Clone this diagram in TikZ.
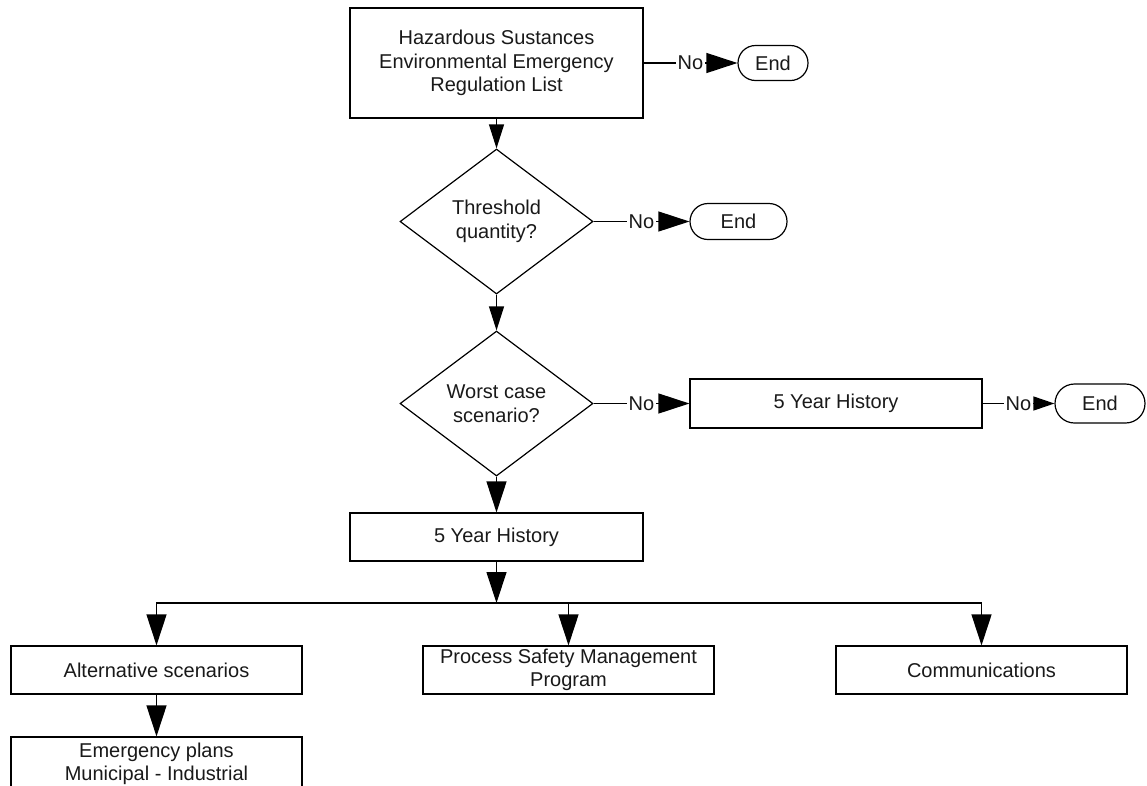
\documentclass[tikz,border=0pt]{standalone}
\usepackage{fontspec}
\setmainfont{Liberation Sans}
\usetikzlibrary{shapes.geometric,shapes.misc,arrows.meta}
\begin{document}
\begin{tikzpicture}[x=1pt,y=-1pt,
  every node/.style={font=\fontsize{20}{23.5}\selectfont, text=black!90},
  box/.style={draw, line width=1.2pt, rectangle, inner sep=0pt, align=center},
  dia/.style={draw, line width=1.2pt, diamond, aspect=1.33, inner sep=0pt,
    minimum width=193pt, minimum height=145pt, align=center},
  term/.style={draw, line width=1.2pt, rounded rectangle, inner sep=0pt},
  arr/.style={line width=1.2pt, -{Triangle[length=31pt,width=20pt]}},
  arrs/.style={line width=1.2pt, -{Triangle[length=24pt,width=15pt]}},
  arrxs/.style={line width=1.2pt, -{Triangle[length=21pt,width=14pt]}},
  lbl/.style={fill=white, inner sep=1.5pt}]
\path[use as bounding box] (0,0) rectangle (1147,785);
\clip (0,0) rectangle (1147,785);

\node[box, minimum width=293pt, minimum height=110pt] (reg) at (496.5,63)
  {Hazardous Sustances\\Environmental Emergency\\Regulation List};
\node[term, minimum width=70pt, minimum height=35pt] (end1) at (773,63) {End};
\node[dia] (thr) at (496.5,221.5) {Threshold\\quantity?};
\node[term, minimum width=97pt, minimum height=36pt] (end2) at (738.5,221.5) {End};
\node[dia] (worst) at (496.5,403.5) {Worst case\\scenario?};
\node[box, minimum width=292pt, minimum height=49pt] (hist2) at (836,403.5) {5 Year History};
\node[term, minimum width=90pt, minimum height=39pt] (end3) at (1100,403.5) {End};
\node[box, minimum width=293pt, minimum height=48pt] (hist) at (496.5,537) {5 Year History};
\coordinate (split) at (496.5,603);
\node[box, minimum width=291pt, minimum height=48pt] (alt) at (156.5,670) {Alternative scenarios};
\node[box, minimum width=291pt, minimum height=48pt] (psm) at (568.5,670) {Process Safety Management\\Program};
\node[box, minimum width=291pt, minimum height=48pt] (comm) at (981.5,670) {Communications};
\node[box, minimum width=291pt, minimum height=54pt] (emg) at (156.5,764) {Emergency plans\\Municipal - Industrial};

\draw[arrs] (reg.south) -- (thr.north);
\draw[arr] (reg.east) -- node[lbl] {No} (end1.west);
\draw[arrs] (thr.south) -- (worst.north);
\draw[arr] (thr.east) -- node[lbl] {No} (end2.west);
\draw[arr] (worst.east) -- node[lbl] {No} (hist2.west);
\draw[arrxs] (hist2.east) -- node[lbl] {No} (end3.west);
\draw[arr] (worst.south) -- (hist.north);
\draw[arr] (hist.south) -- (split);
\draw[arr] (split) -| (alt.north);
\draw[arr] (split) -| (psm.north);
\draw[arr] (split) -| (comm.north);
\draw[arr] (alt.south) -- (emg.north);
\end{tikzpicture}
\end{document}
